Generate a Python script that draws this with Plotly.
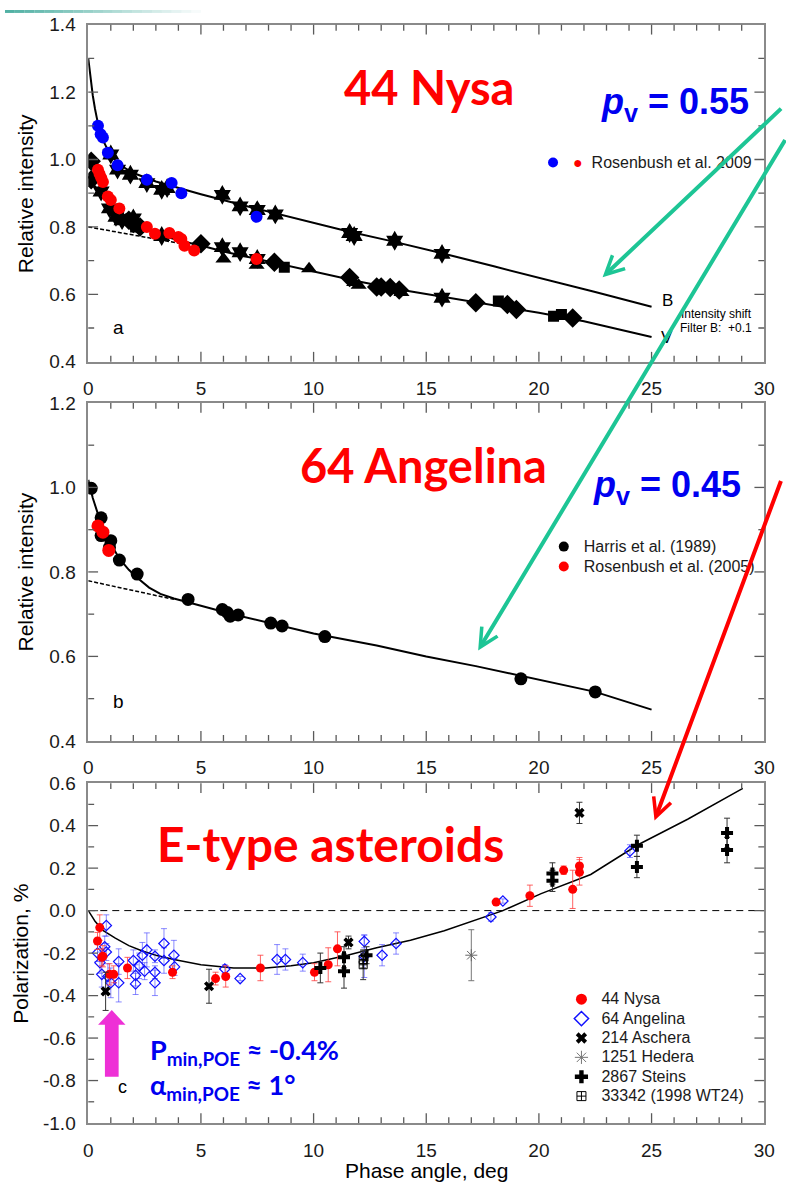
import plotly.graph_objects as go

W, H = 786, 1192
def px(x): return x / W
def py(y): return 1 - y / H

# ---------------- Panel a: 44 Nysa photometry ----------------
FIT_B_X = [0, 0.1, 0.2, 0.3, 0.45, 0.6, 0.8, 1.0, 1.5, 2, 3, 4, 5, 7, 8.3, 10, 11.5, 13.5, 15.7, 18, 20, 22.5, 25]
FIT_B_Y = [1.30, 1.24, 1.19, 1.15, 1.10, 1.065, 1.035, 1.01, 0.98, 0.96, 0.935, 0.915, 0.897, 0.862, 0.84, 0.812, 0.787, 0.757, 0.722, 0.683, 0.65, 0.607, 0.563]
FIT_V_X = [0, 0.2, 0.5, 1.0, 1.5, 2, 2.5, 3, 4, 5, 6, 7, 8, 10, 12, 14, 16, 18, 20, 22, 25]
FIT_V_Y = [0.95, 0.93, 0.90, 0.865, 0.84, 0.815, 0.795, 0.78, 0.76, 0.745, 0.727, 0.712, 0.697, 0.668, 0.638, 0.612, 0.59, 0.566, 0.545, 0.52, 0.473]
DASH_A_X = [0, 4]
DASH_A_Y = [0.80, 0.752]

STAR_UP_X = [1.0, 1.3, 1.87, 2.6, 3.26, 3.5, 5.95, 6.74, 7.5, 8.3, 11.6, 11.8, 13.6, 15.7]
STAR_UP_Y = [1.015, 0.97, 0.955, 0.93, 0.91, 0.915, 0.895, 0.861, 0.85, 0.837, 0.782, 0.773, 0.759, 0.72]
STAR_LO_X = [0.57, 0.94, 1.23, 1.5, 2.0, 3.26, 5.95, 6.74, 7.5, 15.7]
STAR_LO_Y = [0.905, 0.855, 0.83, 0.82, 0.825, 0.773, 0.74, 0.725, 0.705, 0.59]
DIAM_X = [0.13, 0.13, 1.8, 2.0, 2.3, 5.0, 8.26, 11.6, 12.8, 13.0, 13.4, 13.8, 17.2, 18.6, 19.0, 21.5]
DIAM_Y = [0.995, 0.94, 0.82, 0.81, 0.80, 0.75, 0.695, 0.65, 0.622, 0.622, 0.62, 0.613, 0.575, 0.57, 0.555, 0.53]
TRI_X = [2.1, 6.0, 7.47, 9.8, 11.8, 12.0, 13.9]
TRI_Y = [0.81, 0.705, 0.686, 0.676, 0.635, 0.627, 0.605]
SQ_X = [2.1, 8.7, 18.2, 20.65, 21.0]
SQ_Y = [0.80, 0.68, 0.58, 0.535, 0.54]
ROS09_B_X = [0.43, 0.55, 0.65, 0.87, 1.3, 2.6, 3.7, 4.13, 7.47]
ROS09_B_Y = [1.10, 1.075, 1.065, 1.02, 0.983, 0.94, 0.93, 0.90, 0.83]
ROS09_V_X = [0.43, 0.5, 0.58, 0.65, 0.87, 1.0, 1.38, 2.6, 2.96, 3.6, 4.0, 4.13, 4.27, 4.7, 7.47]
ROS09_V_Y = [0.97, 0.957, 0.945, 0.933, 0.89, 0.88, 0.855, 0.80, 0.78, 0.782, 0.77, 0.764, 0.744, 0.73, 0.705]

# ---------------- Panel b: 64 Angelina photometry ----------------
FIT_AN_X = [0, 0.2, 0.43, 0.7, 1.09, 1.4, 1.8, 2.2, 2.7, 3.2, 3.8, 4.4, 5.0, 6.4, 8, 10, 12.8, 15, 17.2, 20, 22.5, 25]
FIT_AN_Y = [1.018, 0.975, 0.937, 0.90, 0.858, 0.83, 0.805, 0.785, 0.763, 0.748, 0.737, 0.728, 0.72, 0.70, 0.679, 0.654, 0.626, 0.60, 0.577, 0.545, 0.516, 0.474]
DASH_B_X = [0, 3.8]
DASH_B_Y = [0.779, 0.735]
HARRIS_X = [0.13, 0.57, 0.57, 1.0, 0.94, 1.38, 2.17, 4.43, 5.95, 6.17, 6.3, 6.65, 8.1, 8.6, 10.5, 19.2, 22.5]
HARRIS_Y = [0.998, 0.928, 0.886, 0.874, 0.858, 0.828, 0.795, 0.735, 0.711, 0.704, 0.695, 0.698, 0.679, 0.672, 0.647, 0.547, 0.516]
ROS05_X = [0.43, 0.65, 0.91]
ROS05_Y = [0.909, 0.894, 0.851]

# ---------------- Panel c: E-type polarization ----------------
FIT_P_X = [0, 0.3, 0.65, 1.2, 1.8, 2.4, 3.0, 3.8, 5, 6.45, 7.9, 9, 10, 11.5, 12.8, 14.3, 15.8, 17.2, 18.4, 20.1, 22.3, 24.4, 26.6, 29.05]
FIT_P_Y = [0.0, -0.05, -0.093, -0.13, -0.165, -0.19, -0.21, -0.23, -0.255, -0.27, -0.27, -0.26, -0.245, -0.21, -0.175, -0.14, -0.095, -0.045, 0.0, 0.08, 0.17, 0.31, 0.43, 0.575]
ZERO_X = [0, 30]
ZERO_Y = [0, 0]

NYSA_X = [0.41, 0.51, 0.6, 0.65, 0.94, 1.13, 1.74, 3.74, 5.65, 6.1, 7.64, 10.04, 10.65, 11.06, 18.1, 19.6, 21.1, 21.5, 21.8, 21.8]
NYSA_Y = [-0.143, -0.08, -0.22, -0.215, -0.30, -0.30, -0.27, -0.29, -0.32, -0.31, -0.27, -0.29, -0.255, -0.18, 0.04, 0.07, 0.19, 0.10, 0.21, 0.18]
NYSA_E = [0.04, 0.06, 0.04, 0.05, 0.05, 0.04, 0.05, 0.03, 0.03, 0.05, 0.06, 0.04, 0.08, 0.08, 0.01, 0.05, 0.02, 0.09, 0.04, 0.06]

ANG_X = [0.41, 0.52, 0.6, 0.73, 0.8, 0.8, 0.87, 1.0, 1.35, 1.35, 2.0, 2.1, 2.1, 2.26, 2.4, 2.5, 2.6, 2.96, 2.96, 2.96, 3.36, 3.36, 3.8, 3.83, 6.06, 6.74, 8.38, 8.75, 9.52, 12.25, 12.25, 13.04, 13.66, 17.87, 18.4, 24.04]
ANG_Y = [-0.20, -0.245, -0.30, -0.17, -0.07, -0.195, -0.31, -0.34, -0.24, -0.34, -0.235, -0.305, -0.345, -0.26, -0.21, -0.285, -0.185, -0.215, -0.29, -0.34, -0.155, -0.235, -0.21, -0.265, -0.275, -0.32, -0.23, -0.23, -0.245, -0.215, -0.145, -0.21, -0.155, -0.03, 0.045, 0.28]
ANG_E = [0.04, 0.05, 0.06, 0.05, 0.05, 0.04, 0.06, 0.07, 0.06, 0.09, 0.05, 0.05, 0.05, 0.06, 0.06, 0.04, 0.08, 0.03, 0.03, 0.06, 0.07, 0.06, 0.07, 0.04, 0.02, 0.01, 0.07, 0.05, 0.04, 0.10, 0.03, 0.05, 0.05, 0.02, 0.01, 0.03]

ASCH_X = [0.77, 5.36, 11.55, 21.8]
ASCH_Y = [-0.38, -0.356, -0.15, 0.46]
ASCH_E = [0.09, 0.08, 0.03, 0.05]
HED_X = [17.0]
HED_Y = [-0.21]
HED_E = [0.12]
STEINS_X = [10.3, 11.35, 11.35, 12.35, 20.6, 20.6, 24.35, 24.35, 28.35, 28.35]
STEINS_Y = [-0.27, -0.22, -0.285, -0.21, 0.175, 0.14, 0.305, 0.205, 0.365, 0.285]
STEINS_E = [0.07, 0.05, 0.08, 0.04, 0.05, 0.05, 0.05, 0.05, 0.07, 0.06]
WT24_X = [12.2, 12.2]
WT24_Y = [-0.255, -0.23]
WT24_E = [0.07, 0.04]

# ---------------- tick positions / labels ----------------
X_MAJOR = [5, 10, 15, 20, 25]
X_MINOR = [1, 2, 3, 4, 6, 7, 8, 9, 11, 12, 13, 14, 16, 17, 18, 19, 21, 22, 23, 24, 26, 27, 28, 29]
YA_MAJOR = [0.6, 0.8, 1.0, 1.2]
YA_MINOR = [0.5, 0.7, 0.9, 1.1, 1.3]
YB_MAJOR = [0.6, 0.8, 1.0]
YB_MINOR = [0.5, 0.7, 0.9, 1.1]
YC_MAJOR = [-0.8, -0.6, -0.4, -0.2, 0.0, 0.2, 0.4]
YC_MINOR = [-0.9, -0.7, -0.5, -0.3, -0.1, 0.1, 0.3, 0.5]
YC_TICKS = [-1.0, -0.8, -0.6, -0.4, -0.2, 0.0, 0.2, 0.4, 0.6]
YC_TICKTEXT = ["-1.0", "-0.8", "-0.6", "-0.4", "-0.2", "0.0", "0.2", "0.4", "0.6"]

FONT = "Liberation Sans, Arial, sans-serif"
TITLE_FONT = "Lato, Calibri, Noto Sans, sans-serif"
NARROW = "Liberation Sans, Arial, sans-serif"
GREEN = "#1DC595"
RED = "#FF0000"
BLUE = "#0000F0"

fig = go.Figure()

def line(x, y, ax, dash=None, width=2):
    fig.add_trace(go.Scatter(x=x, y=y, mode="lines", xaxis=ax[0], yaxis=ax[1],
                             line=dict(color="black", width=width, dash=dash),
                             showlegend=False, hoverinfo="skip"))

def pts(x, y, ax, symbol, color, size, lw=0, lc=None):
    fig.add_trace(go.Scatter(x=x, y=y, mode="markers", xaxis=ax[0], yaxis=ax[1],
                             marker=dict(symbol=symbol, color=color, size=size,
                                         line=dict(width=lw, color=lc or color)),
                             showlegend=False))

A = ("x", "y")
B = ("x2", "y2")
C = ("x3", "y3")

line(FIT_B_X, FIT_B_Y, A)
line(FIT_V_X, FIT_V_Y, A)
line(DASH_A_X, DASH_A_Y, A, dash="4px,2px", width=1.5)
pts(STAR_UP_X, STAR_UP_Y, A, "hexagram", "black", 15)
pts(STAR_LO_X, STAR_LO_Y, A, "hexagram", "black", 15)
pts(DIAM_X, DIAM_Y, A, "diamond", "black", 15)
pts(TRI_X, TRI_Y, A, "triangle-up", "black", 14)
pts(SQ_X, SQ_Y, A, "square", "black", 11)
pts(ROS09_B_X, ROS09_B_Y, A, "circle", "#0000FF", 12)
pts(ROS09_V_X, ROS09_V_Y, A, "circle", "#FF0000", 12)

line(FIT_AN_X, FIT_AN_Y, B)
line(DASH_B_X, DASH_B_Y, B, dash="4px,2px", width=1.5)
pts(HARRIS_X, HARRIS_Y, B, "circle", "black", 13)
pts(ROS05_X, ROS05_Y, B, "circle", "#FF0000", 13)

line(ZERO_X, ZERO_Y, C, dash="7px,5px", width=1)
line(FIT_P_X, FIT_P_Y, C, width=1.5)

def epts(x, y, e, symbol, color, size, ecolor, lw=1, fill=None):
    fig.add_trace(go.Scatter(x=x, y=y, mode="markers", xaxis="x3", yaxis="y3",
                             error_y=dict(type="data", array=e, color=ecolor, thickness=1, width=3),
                             marker=dict(symbol=symbol, color=fill or color, size=size,
                                         line=dict(width=lw, color=color)),
                             showlegend=False))

epts(ANG_X, ANG_Y, ANG_E, "diamond-open", "#1010FF", 8, "rgba(60,60,255,0.6)", lw=1.2)
epts(NYSA_X, NYSA_Y, NYSA_E, "circle", "#FF0000", 9, "rgba(255,60,60,0.8)", lw=0)
epts(HED_X, HED_Y, HED_E, "asterisk-open", "#666666", 10, "#777777", lw=1)
epts(ASCH_X, ASCH_Y, ASCH_E, "x", "black", 9, "#333333", lw=0)
epts(STEINS_X, STEINS_Y, STEINS_E, "cross", "black", 10, "#333333", lw=0)
epts(WT24_X, WT24_Y, WT24_E, "square-cross-open", "black", 8, "#333333", lw=1)

def proxy(name, legend, symbol, color, size, lw=0, lc=None, fs=16):
    fig.add_trace(go.Scatter(x=[None], y=[None], mode="markers",
                             name=f"<span style='font-size:{fs}px'>{name}</span>", legend=legend,
                             xaxis="x3", yaxis="y3",
                             marker=dict(symbol=symbol, color=color, size=size,
                                         line=dict(width=lw, color=lc or color))))

proxy("<span style='color:#FF0000'>●</span>  Rosenbush et al. 2009", "legend", "circle", "#0000FF", 10, fs=16)
proxy("Harris et al. (1989)", "legend2", "circle", "black", 10)
proxy("Rosenbush et al. (2005)", "legend2", "circle", "#FF0000", 10)
proxy("44 Nysa", "legend3", "circle", "#FF0000", 11)
proxy("64 Angelina", "legend3", "diamond-open", "#1010FF", 11, lw=1.5)
proxy("214 Aschera", "legend3", "x", "black", 10)
proxy("1251 Hedera", "legend3", "asterisk-open", "#777777", 11, lw=1)
proxy("2867 Steins", "legend3", "cross", "black", 11)
proxy("33342 (1998 WT24)", "legend3", "square-cross-open", "black", 9, lw=1)

XDOM = [px(85), px(775)]
TICKC = "#5a5a5a"
base = dict(showline=True, linecolor="#8a8a8a", linewidth=1.5, mirror=True, ticks="",
            showgrid=False, zeroline=False,
            tickfont=dict(family=FONT, size=19, color="#1a1a1a"))

def xaxis(anchor):
    return dict(base, domain=XDOM, range=[0, 30], anchor=anchor,
                tickmode="linear", tick0=0, dtick=5, ticklabelstandoff=9)

def yaxis(anchor, domain, rng, **kw):
    return dict(base, domain=domain, range=rng, anchor=anchor, ticklabelstandoff=7, **kw)

def legend_cfg(x, y, size):
    return dict(bgcolor="rgba(0,0,0,0)", borderwidth=0, itemsizing="trace",
                font=dict(family=FONT, size=size, color="#1a1a1a"),
                xanchor="left", yanchor="top", x=px(x), y=py(y))

ann = []
def text(x, y, t, size, color="black", family=FONT, xanchor="center", angle=0):
    ann.append(dict(x=px(x), y=py(y), xref="paper", yref="paper", text=t, showarrow=False,
                    xanchor=xanchor, yanchor="middle", textangle=angle,
                    font=dict(family=family, size=size, color=color)))

text(433, 78, "<b>44 Nysa</b>", 47, RED, TITLE_FONT)
text(427, 463, "<b>64 Angelina</b>", 47, RED, TITLE_FONT)
text(332, 848, "<b>E-type asteroids</b>", 48, RED, TITLE_FONT)
text(684, 96, "<b><i>p</i><sub>v</sub> = 0.55</b>", 36, BLUE, NARROW)
text(676, 486, "<b><i>p</i><sub>v</sub> = 0.45</b>", 36, BLUE, NARROW)
text(146, 1060, "<b>P<sub>min,POE</sub> ≈ -0.4%</b>", 27, BLUE, TITLE_FONT, xanchor="left")
text(146, 1096, "<b>α<sub>min,POE</sub> ≈ 1°</b>", 27, BLUE, TITLE_FONT, xanchor="left")
text(116, 323, "a", 19)
text(116, 704, "b", 19)
text(120, 1096, "c", 18)
text(676, 296, "B", 17)
text(676, 333, "V", 17)
text(726, 309, "Intensity shift", 12)
text(726, 324, "Filter B:  +0.1", 12)
text(21, 187, "Relative intensity", 21, angle=-90)
text(21, 572, "Relative intensity", 21, angle=-90)
text(15, 961, "Polarization, %", 21, angle=-90)
text(430, 1181, "Phase angle, deg", 21)

def arrow(hx, hy, tx, ty, color):
    ann.append(dict(x=px(hx), y=py(hy), xref="paper", yref="paper", text="",
                    showarrow=True, ax=tx - hx, ay=ty - hy, axref="pixel", ayref="pixel",
                    arrowhead=5, arrowsize=0.9, arrowwidth=4, arrowcolor=color, standoff=0))

arrow(610, 272, 790, 102, GREEN)
arrow(483, 652, 792, 140, GREEN)
arrow(663, 825, 790, 484, RED)

shapes = []

# inside tick marks on all four sides, placed through each axis' own scale
PLOT_W = 690
def add_ticks(xa, ya, plot_h, y_major, y_minor):
    for vals, ln in ((X_MAJOR, 10), (X_MINOR, 6)):
        f = ln / plot_h
        for v in vals:
            for y0, y1 in ((0, f), (1, 1 - f)):
                shapes.append(dict(type="line", xref=xa, yref=f"{ya} domain", x0=v, x1=v,
                                   y0=y0, y1=y1, line=dict(color=TICKC, width=1.3)))
    for vals, ln in ((y_major, 10), (y_minor, 6)):
        f = ln / PLOT_W
        for v in vals:
            for x0, x1 in ((0, f), (1, 1 - f)):
                shapes.append(dict(type="line", xref=f"{xa} domain", yref=ya, x0=x0, x1=x1,
                                   y0=v, y1=v, line=dict(color=TICKC, width=1.3)))

add_ticks("x", "y", 343, YA_MAJOR, YA_MINOR)
add_ticks("x2", "y2", 344, YB_MAJOR, YB_MINOR)
add_ticks("x3", "y3", 346, YC_MAJOR, YC_MINOR)

# magenta arrow pointing at the polarization minimum
pts_mag = [(109, 1018), (95, 1033), (102, 1033), (102, 1086), (116, 1086), (116, 1033), (123, 1033)]
path = "M " + " L ".join(f"{px(a):.5f},{py(b):.5f}" for a, b in pts_mag) + " Z"
shapes.append(dict(type="path", xref="paper", yref="paper", path=path,
                   fillcolor="#EE30D6", line=dict(width=0)))
# teal gradient strip at top-left (slide decoration)
for i in range(20):
    shapes.append(dict(type="rect", xref="paper", yref="paper",
                       x0=px(i * 10), x1=px(i * 10 + 10), y0=py(3), y1=py(0),
                       fillcolor="#3FA89A", opacity=max(0.0, 1 - i / 20) * 0.9, line=dict(width=0)))

fig.update_layout(
    width=W, height=H, margin=dict(l=0, r=0, t=0, b=0),
    paper_bgcolor="white", plot_bgcolor="white",
    xaxis=xaxis("y"),
    yaxis=yaxis("x", [py(358), py(15)], [0.4, 1.4], tickmode="linear", tick0=0.4, dtick=0.2, tickformat=".1f"),
    xaxis2=xaxis("y2"),
    yaxis2=yaxis("x2", [py(744), py(400)], [0.4, 1.2], tickmode="linear", tick0=0.4, dtick=0.2, tickformat=".1f"),
    xaxis3=xaxis("y3"),
    yaxis3=yaxis("x3", [py(1133), py(787)], [-1.0, 0.6], tickmode="array", tickvals=YC_TICKS, ticktext=YC_TICKTEXT),
    legend=legend_cfg(539, 140, 13),
    legend2=legend_cfg(550, 531, 13),
    legend3=legend_cfg(568, 992, 12.6),
    annotations=ann, shapes=shapes,
)

fig.write_html("out.html")
